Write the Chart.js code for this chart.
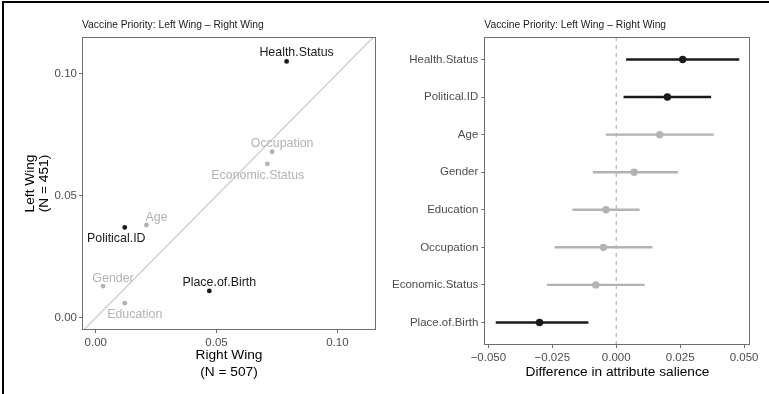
<!DOCTYPE html>
<html>
<head>
<meta charset="utf-8">
<script src="https://cdn.jsdelivr.net/npm/chart.js@4.4.1/dist/chart.umd.min.js"></script>
<style>
  body { margin: 0; background: #fff; }
  #figure { position: relative; width: 769px; height: 394px; overflow: hidden; background: #fff; }
  #frame { position: absolute; left: 2px; top: 1px; right: -4px; bottom: -4px; border-top: 2px solid #000; border-left: 2px solid #000; pointer-events: none; }
  canvas { position: absolute; top: 0; }
  #scatterChart { left: 0; }
  #diffChart { left: 385px; }
</style>
</head>
<body>
<div id="figure">
  <canvas id="scatterChart" width="385" height="394"></canvas>
  <canvas id="diffChart" width="384" height="394"></canvas>
  <div id="frame"></div>
</div>
<script>
// attributes, in the order of the right panel (top to bottom)
const attributes = ['Health.Status', 'Political.ID', 'Age', 'Gender', 'Education', 'Occupation', 'Economic.Status', 'Place.of.Birth'];

// left panel: attribute salience per group
const rightWing = [0.079, 0.012, 0.021, 0.003, 0.012, 0.073, 0.071, 0.047];
const leftWing  = [0.105, 0.037, 0.038, 0.013, 0.006, 0.068, 0.063, 0.011];

// right panel: difference Left - Right with 95% interval
const diffEst  = [0.026, 0.020, 0.017, 0.007, -0.004, -0.005, -0.008, -0.030];
const diffLow  = [0.004, 0.003, -0.004, -0.009, -0.017, -0.024, -0.027, -0.047];
const diffHigh = [0.048, 0.037, 0.038, 0.024, 0.009, 0.014, 0.011, -0.011];

const shareTicks = [0, 0.05, 0.10];
const diffTicks = [-0.05, -0.025, 0, 0.025, 0.05];

const titleText = 'Vaccine Priority: Left Wing \u2013 Right Wing';

const DARK = '#1a1a1a';
const LIGHT = '#b3b3b3';
const significant = attributes.map((a, i) => diffLow[i] > 0 || diffHigh[i] < 0);
const colors = significant.map(s => s ? DARK : LIGHT);

Chart.defaults.font.family = "'Liberation Sans', Arial, sans-serif";
Chart.defaults.animation = false;

// grey box around the panel, like ggplot's panel.border
const panelFrame = {
    id: 'panelFrame',
    afterDraw(chart) {
        const {ctx, chartArea: a} = chart;
        ctx.save();
        ctx.strokeStyle = '#6e6e6e';
        ctx.lineWidth = 1;
        ctx.strokeRect(Math.round(a.left) + 0.5, Math.round(a.top) + 0.5, Math.round(a.right - a.left) - 1, Math.round(a.bottom - a.top) - 1);
        ctx.restore();
    }
};

// labels next to the points (repel-style offsets, in px)
const labelOffsets = [[10, -8.5], [-8.5, 11.5], [10, -7.5], [10, -7.5], [10, 11], [10, -8], [-9.5, 11.5], [10, -8.5]];
const pointLabels = {
    id: 'pointLabels',
    afterDatasetsDraw(chart) {
        const meta = chart.getDatasetMeta(0);
        const ctx = chart.ctx;
        ctx.save();
        ctx.font = "12.4px 'Liberation Sans', Arial, sans-serif";
        ctx.textAlign = 'center';
        ctx.textBaseline = 'middle';
        meta.data.forEach((pt, i) => {
            ctx.fillStyle = colors[i];
            ctx.fillText(attributes[i], pt.x + labelOffsets[i][0], pt.y + labelOffsets[i][1]);
        });
        ctx.restore();
    }
};

const axisTicks = {
    offset: false,
    drawOnChartArea: false,
    drawTicks: true,
    tickLength: 3,
    color: '#6e6e6e'
};
const tickFont = {size: 11.5};
const titlePlugin = {
    display: true,
    text: titleText,
    align: 'start',
    fullSize: false,
    color: '#1a1a1a',
    font: {size: 10.3, weight: 'normal'},
    padding: {top: 18.8, bottom: 5.8}
};

const shareLimits = [-0.0057, 0.116];

new Chart(document.getElementById('scatterChart'), {
    type: 'scatter',
    data: {
        datasets: [{
            label: 'attributes',
            data: attributes.map((a, i) => ({x: rightWing[i], y: leftWing[i]})),
            backgroundColor: colors,
            pointRadius: 2.4,
            pointBorderWidth: 0
        }, {
            type: 'line',
            label: 'y = x',
            data: [{x: -0.02, y: -0.02}, {x: 0.13, y: 0.13}],
            borderColor: '#c8c8c8',
            borderWidth: 1.2,
            pointRadius: 0
        }]
    },
    options: {
        responsive: false,
        layout: {padding: {left: 0, top: 0, right: 9, bottom: 0}},
        plugins: {legend: {display: false}, tooltip: {enabled: false}, title: titlePlugin},
        scales: {
            x: {
                type: 'linear',
                min: shareLimits[0],
                max: shareLimits[1],
                afterBuildTicks: s => { s.ticks = shareTicks.map(v => ({value: v})); },
                afterFit: s => { s.height = 64; },
                ticks: {callback: v => v.toFixed(2), font: tickFont, color: '#4d4d4d', padding: 3, maxRotation: 0},
                grid: axisTicks,
                border: {display: false},
                title: {display: true, text: ['Right Wing', '(N = 507)'], color: '#000', font: {size: 13.7}, padding: {top: 0, bottom: 13.8}}
            },
            y: {
                type: 'linear',
                min: -0.005,
                max: 0.115,
                afterBuildTicks: s => { s.ticks = shareTicks.map(v => ({value: v})); },
                afterFit: s => { s.width = 82; },
                ticks: {callback: v => v.toFixed(2), font: tickFont, color: '#4d4d4d', padding: 2},
                grid: axisTicks,
                border: {display: false},
                title: {display: true, text: ['Left Wing', '(N = 451)'], color: '#000', font: {size: 13.7, lineHeight: 0.97}, padding: {top: 24, bottom: 0}}
            }
        }
    },
    plugins: [panelFrame, pointLabels]
});

const rowLimits = [0.4, attributes.length + 0.6];
const fmtDiff = v => (v < 0 ? '\u2212' : '') + Math.abs(v).toFixed(3);

new Chart(document.getElementById('diffChart'), {
    type: 'scatter',
    data: {
        datasets: [{
            label: 'estimate',
            data: attributes.map((a, i) => ({x: diffEst[i], y: i + 1})),
            backgroundColor: colors,
            pointRadius: 3.7,
            pointBorderWidth: 0
        }, {
            type: 'bar',
            label: '95% CI',
            indexAxis: 'y',
            data: attributes.map((a, i) => ({x: [diffLow[i], diffHigh[i]], y: i + 1})),
            backgroundColor: colors,
            borderWidth: 0,
            barThickness: 1.8
        }, {
            type: 'line',
            label: 'zero',
            data: [{x: 0, y: rowLimits[0]}, {x: 0, y: rowLimits[1]}],
            borderColor: '#a6a6a6',
            borderWidth: 1,
            borderDash: [4, 4],
            pointRadius: 0
        }]
    },
    options: {
        responsive: false,
        layout: {padding: {left: 0, top: 0, right: 18.3, bottom: 0}},
        plugins: {legend: {display: false}, tooltip: {enabled: false}, title: titlePlugin},
        scales: {
            x: {
                type: 'linear',
                offset: false,
                beginAtZero: false,
                min: -0.0516,
                max: 0.0526,
                afterBuildTicks: s => { s.ticks = diffTicks.map(v => ({value: v})); },
                afterFit: s => { s.height = 49; },
                ticks: {callback: fmtDiff, font: tickFont, color: '#4d4d4d', padding: 3, maxRotation: 0},
                grid: axisTicks,
                border: {display: false},
                title: {display: true, text: 'Difference in attribute salience', color: '#000', font: {size: 13.7}, padding: {top: 0, bottom: 13.8}}
            },
            y: {
                type: 'linear',
                offset: false,
                reverse: true,
                min: rowLimits[0],
                max: rowLimits[1],
                afterBuildTicks: s => { s.ticks = attributes.map((a, i) => ({value: i + 1})); },
                afterFit: s => { s.width = 99.3; },
                ticks: {callback: v => attributes[v - 1], font: tickFont, color: '#4d4d4d', padding: 3},
                grid: axisTicks,
                border: {display: false}
            }
        }
    },
    plugins: [panelFrame]
});
</script>
</body>
</html>
